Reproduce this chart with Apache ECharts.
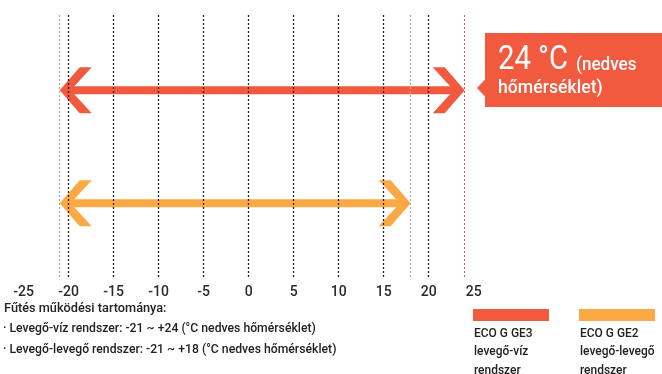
<!DOCTYPE html>
<html><head><meta charset="utf-8">
<script src="https://cdn.jsdelivr.net/npm/echarts@6/dist/echarts.min.js"></script>
<style>html,body{margin:0;padding:0;background:#fff}#c{width:662px;height:374px}</style>
</head><body><div id="c"></div>
<script>
// ---- data ----
const systems = ['ECO G GE3', 'ECO G GE2'];
const systemTypes = ['levegő-víz', 'levegő-levegő'];
const rangeMin = [-21, -21];
const rangeMax = [24, 18];
const rowLevel = [7.1, 2.8];
const colors = ['#F15A3E', '#FBA944'];
const tickValues = [-25, -20, -15, -10, -5, 0, 5, 10, 15, 20, 25];
const gridValues = [-20, -15, -10, -5, 0, 5, 10, 15, 20];
const limitValues = [-21, 18];
const highlightValue = 24;
const noteTitle = 'Fűtés működési tartománya:';
const noteLines = ['· Levegő-víz rendszer: -21 ~ +24 (°C nedves hőmérséklet)',
                   '· Levegő-levegő rendszer: -21 ~ +18 (°C nedves hőmérséklet)'];
const FONT = 'Roboto, "Noto Sans", sans-serif';

const chart = echarts.init(document.getElementById('c'), null, {renderer: 'canvas'});

const arrowData = systems.map((s, i) => [rangeMin[i], rangeMax[i], rowLevel[i]]);

function chevron(x, y, dir) {
  const L = 32, H = 23, w = 12, t = 11;
  const p = (dx, dy) => [x + dir * dx, y + dy];
  return [p(0, 0), p(L - w, -H), p(L, -H), p(t, 0), p(L, H), p(L - w, H)];
}

const markData = [];
gridValues.forEach(v => markData.push({xAxis: v, lineStyle: {color: '#222', type: [2, 2], width: 1.3}}));
limitValues.forEach(v => markData.push({xAxis: v, lineStyle: {color: '#aaa', type: [2, 2], width: 1.3}}));
markData.push({xAxis: highlightValue, lineStyle: {color: '#E8563B', type: [2, 2], width: 1}});

function txt(x, y, text, size, opts) {
  opts = opts || {};
  return {type: 'text', x: x, y: y, scaleX: opts.sx || 1, style: {
    text: text, font: (opts.w || 500) + ' ' + size + 'px ' + FONT, fill: opts.fill || '#222',
    verticalAlign: 'middle', lineHeight: opts.lh || size
  }};
}

const legendGraphics = [];
systems.forEach((s, i) => {
  const x0 = 473 + i * 106;
  legendGraphics.push({type: 'rect', shape: {x: x0, y: 309, width: 76, height: 12}, style: {fill: colors[i]}});
  legendGraphics.push(txt(x0 + 1, 333.6, s, 13, {sx: 0.92}));
  legendGraphics.push(txt(x0 + 1, 352, systemTypes[i], 13, {sx: 0.92}));
  legendGraphics.push(txt(x0 + 1, 370.5, 'rendszer', 13, {sx: 0.92}));
});

const option = {
  animation: false,
  grid: {left: 23.7, width: 450, top: 14, bottom: 97},
  xAxis: {
    type: 'value', min: -25, max: 25, interval: 5,
    axisLine: {show: false}, axisTick: {show: false}, splitLine: {show: false},
    axisLabel: {show: true, margin: 8, fontSize: 14, fontWeight: 500, color: '#2a2a2a', fontFamily: FONT,
      customValues: tickValues}
  },
  yAxis: {type: 'value', min: 0, max: 10, show: false},
  series: [
    {
      type: 'custom', z: 2,
      data: arrowData,
      renderItem(params, api) {
        const a = api.coord([api.value(0), api.value(2)]);
        const b = api.coord([api.value(1), api.value(2)]);
        const c = colors[params.dataIndex];
        const y = a[1];
        return {type: 'group', children: [
          {type: 'rect', shape: {x: a[0] + 6, y: y - 4, width: b[0] - a[0] - 12, height: 8}, style: {fill: c}},
          {type: 'polygon', shape: {points: chevron(a[0], y, 1)}, style: {fill: c}},
          {type: 'polygon', shape: {points: chevron(b[0], y, -1)}, style: {fill: c}}
        ]};
      }
    },
    {
      type: 'line', z: 5, data: [], silent: true,
      markLine: {silent: true, symbol: 'none', label: {show: false}, data: markData}
    }
  ],
  graphic: [
    {type: 'rect', shape: {x: 485, y: 33, width: 180, height: 74}, style: {fill: '#F15A3E'}},
    {type: 'polygon', shape: {points: [[477, 88], [485.5, 79], [485.5, 97]]}, style: {fill: '#F15A3E'}},
    txt(498, 60.4, '24 °C', 34, {sx: 0.86, fill: '#fff', w: 400}),
    txt(576, 65.5, '(nedves', 19, {sx: 0.9, fill: '#fff'}),
    txt(498, 88.5, 'hőmérséklet)', 19, {sx: 0.93, fill: '#fff'}),
    txt(4, 308.3, noteTitle, 13, {sx: 0.98}),
    txt(3, 328.8, noteLines[0], 13, {sx: 0.94}),
    txt(3, 349.8, noteLines[1], 13, {sx: 0.94}),
    ...legendGraphics
  ]
};
chart.setOption(option);
</script></body></html>
